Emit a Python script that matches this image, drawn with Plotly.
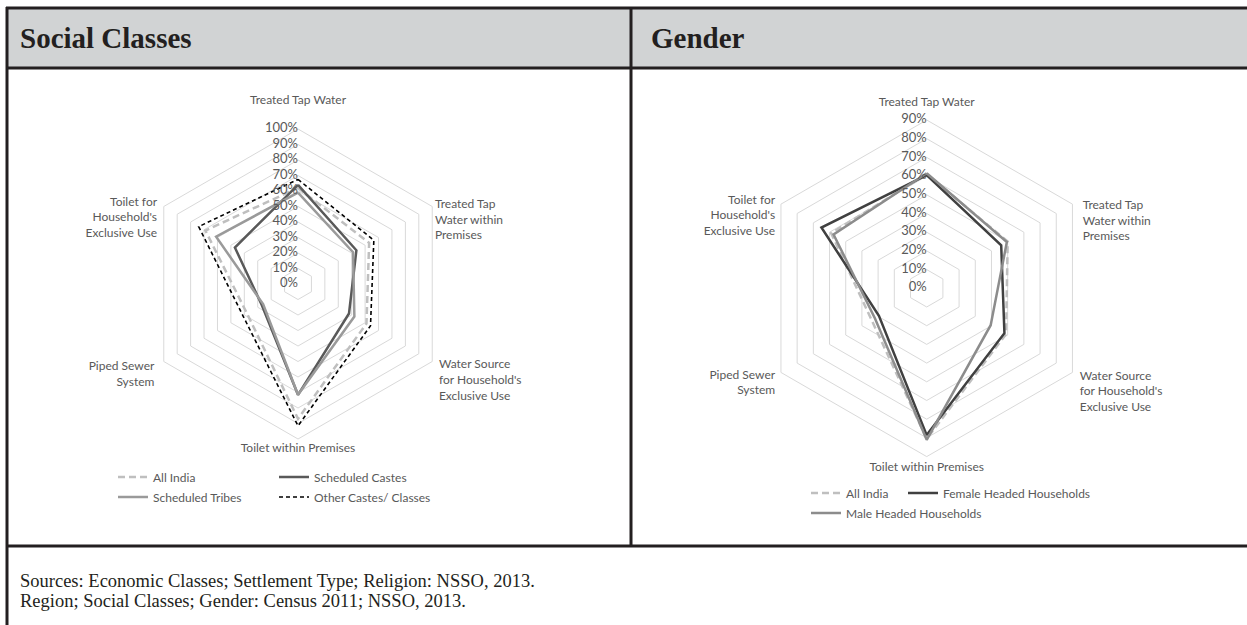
import plotly.graph_objects as go

# ---------------- data ----------------
categories = [
    "Treated Tap Water",
    "Treated Tap Water within Premises",
    "Water Source for Household's Exclusive Use",
    "Toilet within Premises",
    "Piped Sewer System",
    "Toilet for Household's Exclusive Use",
]
category_labels = [
    "Treated Tap Water",
    "Treated Tap<br>Water within<br>Premises",
    "Water Source<br>for Household's<br>Exclusive Use",
    "Toilet within Premises",
    "Piped Sewer<br>System",
    "Toilet for<br>Household's<br>Exclusive Use",
]

social_names = ["All India", "Scheduled Castes", "Scheduled Tribes", "Other Castes/ Classes"]
social_all_india = [0.62, 0.53, 0.51, 0.87, 0.38, 0.69]
social_sc = [0.64, 0.435, 0.38, 0.715, 0.27, 0.47]
social_st = [0.59, 0.41, 0.42, 0.715, 0.26, 0.61]
social_oc = [0.675, 0.565, 0.54, 0.915, 0.41, 0.74]

gender_names = ["All India", "Female Headed Households", "Male Headed Households"]
gender_all_india = [0.61, 0.50, 0.49, 0.805, 0.34, 0.59]
gender_female = [0.605, 0.46, 0.48, 0.785, 0.295, 0.65]
gender_male = [0.615, 0.495, 0.395, 0.81, 0.32, 0.575]

social_ticks = [0.0, 0.1, 0.2, 0.3, 0.4, 0.5, 0.6, 0.7, 0.8, 0.9, 1.0]
social_tick_labels = ["0%", "10%", "20%", "30%", "40%", "50%", "60%", "70%", "80%", "90%", "100%"]
gender_ticks = [0.0, 0.1, 0.2, 0.3, 0.4, 0.5, 0.6, 0.7, 0.8, 0.9]
gender_tick_labels = ["0%", "10%", "20%", "30%", "40%", "50%", "60%", "70%", "80%", "90%"]

panel_titles = ["Social Classes", "Gender"]
footer_lines = [
    "Sources: Economic Classes; Settlement Type; Religion: NSSO, 2013.",
    "Region; Social Classes; Gender: Census 2011; NSSO, 2013.",
]

# ---------------- layout / style settings ----------------
W, H = 1247, 625
def fx(px):
    return px / W
def fy(py):
    return 1 - py / H

LABEL_FONT = "Lato, 'Open Sans', sans-serif"
SERIF = "'Liberation Serif', 'DejaVu Serif', serif"
TXT = "#595959"
BORDER = "#231f20"
EXTRA = 1.2  # radial range extends beyond the outer ring so category labels can sit inside it

# category label placement (fraction of outer ring radius, text position, blank lines above)
label_radius_left = [1.18, 1.02, 1.05, 1.065, 1.07, 1.05]
label_radius_right = [1.10, 1.07, 1.05, 1.07, 1.04, 1.04]
label_positions = ["middle center", "middle right", "middle right", "middle center", "middle left", "middle left"]
label_pad_left = [0, 2, 2, 0, 1, 2]
label_pad_right = [0, 3, 2, 0, 1, 2]

def closed(v):
    return list(v) + [v[0]]

def padded(texts, pads):
    return ["\u00a0<br>" * p + t for t, p in zip(texts, pads)]

def tick_r(ticks):
    # a label exactly at the pole is dropped by the polar renderer; nudge it by a hair
    return [t if t > 0 else 0.001 for t in ticks]

theta_closed = closed(categories)

fig = go.Figure()

# ---- Social classes (left) ----
styles_social = [
    dict(color="#bfbfbf", width=2.5, dash="7px,4px"),
    dict(color="#595959", width=2.5, dash="solid"),
    dict(color="#9a9a9a", width=2.5, dash="solid"),
    dict(color="#000000", width=1.6, dash="4px,3px"),
]
social_series = [social_all_india, social_sc, social_st, social_oc]
social_legends = ["legend", "legend", "legend2", "legend2"]
social_lw = [116, 150, 116, 150]
for name, vals, st, lg, lw in zip(social_names, social_series, styles_social, social_legends, social_lw):
    fig.add_trace(go.Scatterpolar(
        r=closed(vals), theta=theta_closed, mode="lines", name=name,
        line=st, subplot="polar", legend=lg, legendwidth=lw, hoverinfo="skip",
    ))

fig.add_trace(go.Scatterpolar(
    r=tick_r(social_ticks), theta=[categories[0]] * len(social_ticks), mode="text",
    text=social_tick_labels, textposition="middle left",
    textfont=dict(family=LABEL_FONT, size=13, color=TXT),
    subplot="polar", showlegend=False, hoverinfo="skip", cliponaxis=True,
))
fig.add_trace(go.Scatterpolar(
    r=[v * 1.0 for v in label_radius_left], theta=categories, mode="text",
    text=padded(category_labels, label_pad_left), textposition=label_positions,
    textfont=dict(family=LABEL_FONT, size=12, color=TXT),
    subplot="polar", showlegend=False, hoverinfo="skip", cliponaxis=False,
))

# ---- Gender (right) ----
styles_gender = [
    dict(color="#bfbfbf", width=2.5, dash="7px,4px"),
    dict(color="#404040", width=2.5, dash="solid"),
    dict(color="#8c8c8c", width=2.5, dash="solid"),
]
gender_series = [gender_all_india, gender_female, gender_male]
gender_legends = ["legend3", "legend3", "legend4"]
gender_lw = [52, 165, 165]
for name, vals, st, lg, lw in zip(gender_names, gender_series, styles_gender, gender_legends, gender_lw):
    fig.add_trace(go.Scatterpolar(
        r=closed(vals), theta=theta_closed, mode="lines", name=name,
        line=st, subplot="polar2", legend=lg, legendwidth=lw, hoverinfo="skip",
    ))

fig.add_trace(go.Scatterpolar(
    r=tick_r(gender_ticks), theta=[categories[0]] * len(gender_ticks), mode="text",
    text=gender_tick_labels, textposition="middle left",
    textfont=dict(family=LABEL_FONT, size=13, color=TXT),
    subplot="polar2", showlegend=False, hoverinfo="skip", cliponaxis=True,
))
fig.add_trace(go.Scatterpolar(
    r=[v * 0.9 for v in label_radius_right], theta=categories, mode="text",
    text=padded(category_labels, label_pad_right), textposition=label_positions,
    textfont=dict(family=LABEL_FONT, size=12, color=TXT),
    subplot="polar2", showlegend=False, hoverinfo="skip", cliponaxis=False,
))

def polar_cfg(cx, cy, R, rmax, ticks):
    Rd = R * EXTRA
    return dict(
        domain=dict(x=[fx(cx - Rd), fx(cx + Rd)], y=[fy(cy + Rd), fy(cy - Rd)]),
        bgcolor="rgba(0,0,0,0)",
        gridshape="linear",
        radialaxis=dict(range=[0, rmax * EXTRA], tickvals=ticks[1:], showticklabels=False,
                        ticks="", showline=False, gridcolor="#d9d9d9", gridwidth=1, angle=90),
        angularaxis=dict(direction="clockwise", rotation=90, showgrid=False,
                         showline=False, ticks="", showticklabels=False),
    )

def legend_cfg(x_px, y_px):
    return dict(
        x=fx(x_px), y=fy(y_px), xanchor="left", yanchor="middle",
        orientation="h",
        font=dict(family=LABEL_FONT, size=12, color=TXT),
        bgcolor="rgba(0,0,0,0)", itemwidth=30, tracegroupgap=0,
    )

shapes = [
    dict(type="rect", xref="paper", yref="paper", x0=fx(7), x1=fx(W + 5), y0=fy(68), y1=fy(8),
         fillcolor="#d1d3d4", line=dict(width=0), layer="below"),
    dict(type="line", xref="paper", yref="paper", x0=fx(6), x1=fx(W + 5), y0=fy(8), y1=fy(8),
         line=dict(color=BORDER, width=3)),
    dict(type="line", xref="paper", yref="paper", x0=fx(6), x1=fx(W + 5), y0=fy(68), y1=fy(68),
         line=dict(color=BORDER, width=3)),
    dict(type="line", xref="paper", yref="paper", x0=fx(6), x1=fx(W + 5), y0=fy(546), y1=fy(546),
         line=dict(color=BORDER, width=3)),
    dict(type="line", xref="paper", yref="paper", x0=fx(7), x1=fx(7), y0=fy(7), y1=fy(H + 5),
         line=dict(color=BORDER, width=3)),
    dict(type="line", xref="paper", yref="paper", x0=fx(631), x1=fx(631), y0=fy(7), y1=fy(547),
         line=dict(color=BORDER, width=3)),
]

annotations = [
    dict(text="<b>" + panel_titles[0] + "</b>", x=fx(18), y=fy(38), xref="paper", yref="paper",
         xanchor="left", yanchor="middle", showarrow=False,
         font=dict(family=SERIF, size=29, color=BORDER)),
    dict(text="<b>" + panel_titles[1] + "</b>", x=fx(649), y=fy(38), xref="paper", yref="paper",
         xanchor="left", yanchor="middle", showarrow=False,
         font=dict(family=SERIF, size=29, color=BORDER)),
    dict(text=footer_lines[0], x=fx(18), y=fy(581), xref="paper", yref="paper",
         xanchor="left", yanchor="middle", showarrow=False,
         font=dict(family=SERIF, size=18.5, color=BORDER)),
    dict(text=footer_lines[1], x=fx(18), y=fy(601), xref="paper", yref="paper",
         xanchor="left", yanchor="middle", showarrow=False,
         font=dict(family=SERIF, size=18.5, color=BORDER)),
]

fig.update_layout(
    width=W, height=H,
    margin=dict(l=0, r=0, t=0, b=0),
    paper_bgcolor="white", plot_bgcolor="white",
    polar=polar_cfg(298, 284, 155, 1.0, social_ticks),
    polar2=polar_cfg(926.7, 288.3, 168.3, 0.9, gender_ticks),
    legend=legend_cfg(113, 477),
    legend2=legend_cfg(113, 497),
    legend3=legend_cfg(806, 493),
    legend4=legend_cfg(806, 513),
    shapes=shapes,
    annotations=annotations,
    showlegend=True,
)

fig.write_html(
    "out.html",
    config={"displayModeBar": False},
    post_script="document.body.style.margin='0';document.body.style.overflow='hidden';",
)
